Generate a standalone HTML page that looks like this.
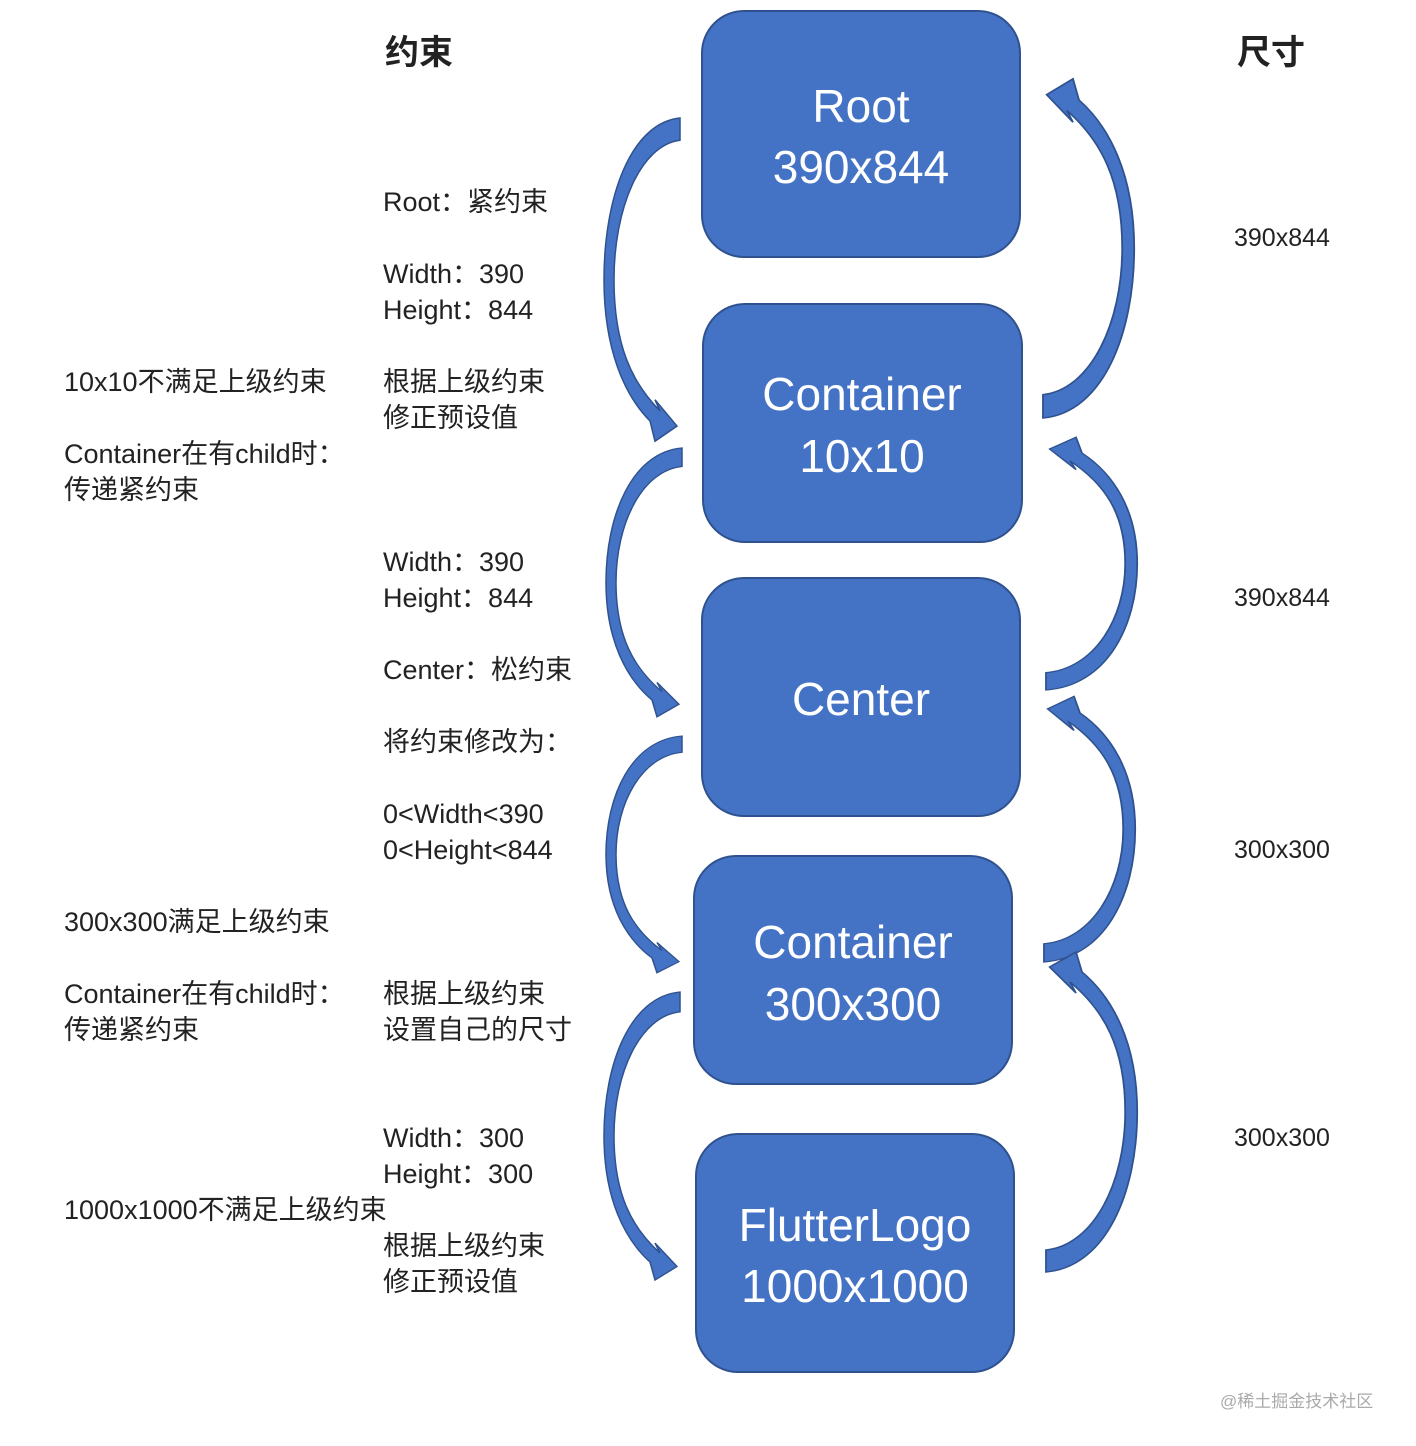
<!DOCTYPE html>
<html><head><meta charset="utf-8"><style>
html,body{margin:0;padding:0;background:#fff;width:1416px;height:1446px;overflow:hidden}
text{font-family:"Liberation Sans","Noto Sans CJK SC",sans-serif;fill:#222}
.b{fill:#4472C4;stroke:#2F528F;stroke-width:2}
.bt{fill:#fff;font-size:46px;text-anchor:middle;font-family:"Liberation Sans",sans-serif}
.t{font-size:27px}
.a{fill:#4472C4;stroke:#2F528F;stroke-width:1.5}
</style></head><body>
<svg width="1416" height="1446" viewBox="0 0 1416 1446" xmlns="http://www.w3.org/2000/svg">
<defs>
<path id="arr" d="M0,0 C-50,5 -76,80 -76,160 C-76,230 -55,275 -30,300 L-25,320 L-3,305 L-25,279 L-20,290 C-48,262 -66,225 -66,160 C-66,90 -40,27 0,22 Z"/>
</defs>
<rect class="b" x="702" y="11" width="318" height="246" rx="42"/>
<rect class="b" x="703" y="304" width="319" height="238" rx="42"/>
<rect class="b" x="702" y="578" width="318" height="238" rx="42"/>
<rect class="b" x="694" y="856" width="318" height="228" rx="42"/>
<rect class="b" x="696" y="1134" width="318" height="238" rx="42"/>
<text class="bt" x="861" y="122">Root</text>
<text class="bt" x="861" y="183">390x844</text>
<text class="bt" x="862" y="410">Container</text>
<text class="bt" x="862" y="472">10x10</text>
<text class="bt" x="861" y="715">Center</text>
<text class="bt" x="853" y="958">Container</text>
<text class="bt" x="853" y="1020">300x300</text>
<text class="bt" x="855" y="1241">FlutterLogo</text>
<text class="bt" x="855" y="1302">1000x1000</text>

<use href="#arr" class="a" transform="translate(680,118) scale(1,1.01)"/>
<use href="#arr" class="a" transform="translate(682,448) scale(1,0.84)"/>
<use href="#arr" class="a" transform="translate(682,736) scale(1,0.74)"/>
<use href="#arr" class="a" transform="translate(680,992) scale(1,0.9)"/>
<use href="#arr" class="a" transform="translate(1043,418) scale(-1.2,-1.06)"/>
<use href="#arr" class="a" transform="translate(1046,690) scale(-1.2,-0.79)"/>
<use href="#arr" class="a" transform="translate(1044,962) scale(-1.2,-0.83)"/>
<use href="#arr" class="a" transform="translate(1046,1272) scale(-1.2,-1.0)"/>

<text x="385" y="64" style="font-size:34px;font-weight:bold">约束</text>
<text x="1237" y="64" style="font-size:34px;font-weight:bold">尺寸</text>

<text class="t" x="383" y="211">Root：紧约束</text>
<text class="t" x="383" y="283">Width：390</text>
<text class="t" x="383" y="319">Height：844</text>
<text class="t" x="383" y="391">根据上级约束</text>
<text class="t" x="383" y="427">修正预设值</text>
<text class="t" x="383" y="571">Width：390</text>
<text class="t" x="383" y="607">Height：844</text>
<text class="t" x="383" y="679">Center：松约束</text>
<text class="t" x="383" y="751">将约束修改为：</text>
<text class="t" x="383" y="823">0&lt;Width&lt;390</text>
<text class="t" x="383" y="859">0&lt;Height&lt;844</text>
<text class="t" x="383" y="1003">根据上级约束</text>
<text class="t" x="383" y="1039">设置自己的尺寸</text>
<text class="t" x="383" y="1147">Width：300</text>
<text class="t" x="383" y="1183">Height：300</text>
<text class="t" x="383" y="1255">根据上级约束</text>
<text class="t" x="383" y="1291">修正预设值</text>

<text class="t" x="64" y="391">10x10不满足上级约束</text>
<text class="t" x="64" y="463">Container在有child时：</text>
<text class="t" x="64" y="499">传递紧约束</text>
<text class="t" x="64" y="931">300x300满足上级约束</text>
<text class="t" x="64" y="1003">Container在有child时：</text>
<text class="t" x="64" y="1039">传递紧约束</text>
<text class="t" x="64" y="1219">1000x1000不满足上级约束</text>

<text class="t" x="1234" y="246" style="font-size:25px">390x844</text>
<text class="t" x="1234" y="606" style="font-size:25px">390x844</text>
<text class="t" x="1234" y="858" style="font-size:25px">300x300</text>
<text class="t" x="1234" y="1146" style="font-size:25px">300x300</text>
<text x="1220" y="1407" style="font-size:17px;fill:#aaa">@稀土掘金技术社区</text>
</svg>
</body></html>
